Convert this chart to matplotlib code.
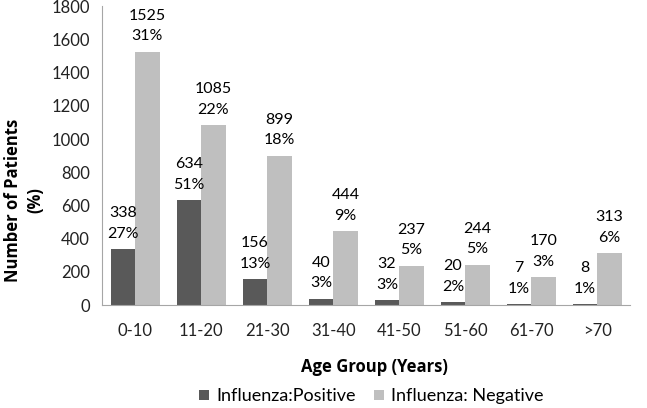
import numpy as np
import matplotlib
matplotlib.use('Agg')
import matplotlib.pyplot as plt

plt.rcParams['font.family'] = ['Lato', 'DejaVu Sans']

# Dados
age_groups = ['0-10', '11-20', '21-30', '31-40', '41-50', '51-60', '61-70', '>70']
positive = [338, 634, 156, 40, 32, 20, 7, 8]
positive_pct = ['27%', '51%', '13%', '3%', '3%', '2%', '1%', '1%']
negative = [1525, 1085, 899, 444, 237, 244, 170, 313]
negative_pct = ['31%', '22%', '18%', '9%', '5%', '5%', '3%', '6%']

fig = plt.figure(figsize=(6.47, 4.08), dpi=100)
ax = fig.add_axes([0.158, 0.252, 0.816, 0.733])

x = np.arange(len(age_groups))
w = 0.37
b1 = ax.bar(x - w / 2, positive, w, color='#595959', label='Influenza:Positive')
b2 = ax.bar(x + w / 2, negative, w, color='#bfbfbf', label='Influenza: Negative')

# rótulos acima das barras
for bars, pcts in [(b1, positive_pct), (b2, negative_pct)]:
    for bar, p in zip(bars, pcts):
        h = bar.get_height()
        ax.annotate(f'{int(h)}\n{p}',
                    xy=(bar.get_x() + bar.get_width() / 2, h),
                    xytext=(0, 6), textcoords='offset points',
                    ha='center', va='bottom', fontsize=11.5, linespacing=1.6)

ax.set_xlim(-0.5, len(age_groups) - 0.5)
ax.set_ylim(0, 1800)
ax.set_yticks(range(0, 1801, 200))
ax.set_xticks(x)
ax.set_xticklabels(age_groups)
ax.tick_params(axis='both', length=0, labelsize=12, colors='#222222')
ax.tick_params(axis='x', pad=13)
ax.tick_params(axis='y', pad=9)

for s in ['top', 'right']:
    ax.spines[s].set_visible(False)
for s in ['left', 'bottom']:
    ax.spines[s].set_color('#a6a6a6')

ax.set_xlabel('Age Group (Years)', fontsize=12, fontweight='bold', family='Open Sans')
ax.xaxis.set_label_coords(0.515, -0.175)
ax.set_ylabel('Number of Patients\n(%)', fontsize=12, fontweight='bold', family='Open Sans',
              linespacing=1.3)
ax.yaxis.set_label_coords(-0.11, 0.35)

ax.legend(loc='center', bbox_to_anchor=(0.51, -0.305), ncol=2, frameon=False,
          fontsize=13, handlelength=0.55, handleheight=0.55, columnspacing=1.0,
          handletextpad=0.4, borderpad=0.1)

fig.savefig('out.png', dpi=100)
